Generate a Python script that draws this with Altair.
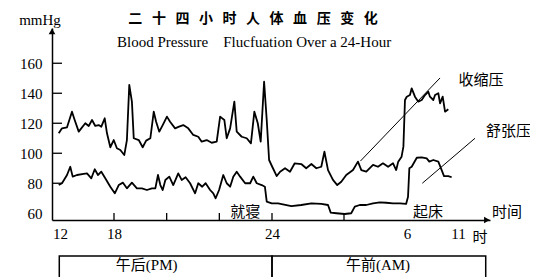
import altair as alt
import pandas as pd

# ---- data: [hour of day (12 = noon, 24 = midnight, 30 = 6 AM), mmHg]
systolic = [
    [11.86, 113.3], [12.22, 116.6], [12.78, 117.3], [13.33, 127.7], [13.63, 122.2], [14.08, 114.4],
    [14.81, 120.0], [15.19, 118.2], [15.56, 122.2], [15.92, 118.2], [16.30, 118.8], [16.59, 117.7],
    [16.97, 123.3], [17.22, 113.3], [17.59, 104.0], [17.97, 108.8], [18.11, 103.3], [18.24, 102.2],
    [18.39, 98.8], [18.49, 108.8], [18.58, 145.5], [18.68, 134.4], [18.75, 110.0], [18.94, 108.8],
    [19.09, 104.0], [19.22, 108.4], [19.38, 110.0], [19.51, 127.7], [19.60, 121.0], [19.72, 114.4],
    [19.85, 118.8], [20.01, 124.4], [20.13, 121.0], [20.32, 116.6], [20.47, 117.7], [20.63, 118.8],
    [20.82, 116.6], [21.01, 112.2], [21.20, 111.0], [21.33, 107.7], [21.52, 108.8], [21.71, 107.0],
    [21.90, 107.7], [22.03, 124.4], [22.19, 122.2], [22.28, 110.0], [22.41, 116.6], [22.57, 134.4],
    [22.66, 114.4], [22.85, 111.0], [23.04, 110.0], [23.20, 106.6], [23.33, 127.7], [23.46, 120.0],
    [23.57, 107.7], [23.70, 147.7], [23.80, 122.2], [23.89, 95.5], [24.01, 91.0], [24.21, 84.8],
    [24.36, 87.7], [24.58, 90.0], [24.80, 87.7], [25.01, 93.3], [25.30, 92.8], [25.52, 90.0],
    [25.75, 92.8], [25.97, 90.0], [26.19, 91.0], [26.33, 101.0], [26.49, 88.8], [26.71, 82.2],
    [26.90, 78.8], [27.08, 81.0], [27.30, 85.5], [27.60, 88.8], [27.82, 94.4], [27.97, 88.8],
    [28.19, 87.7], [28.49, 92.2], [28.71, 91.0], [28.93, 93.3], [29.16, 91.0], [29.38, 93.3],
    [29.52, 88.8], [29.61, 94.4], [29.76, 97.7], [29.84, 104.4], [29.91, 135.5], [29.99, 137.7],
    [30.29, 138.8], [30.46, 143.3], [30.78, 137.7], [31.11, 134.4], [31.44, 135.5], [31.76, 138.8],
    [32.09, 141.0], [32.25, 137.7], [32.58, 135.5], [32.75, 138.8], [33.07, 140.0], [33.24, 133.3],
    [33.50, 137.7], [33.73, 127.7], [34.05, 129.3],
]

diastolic = [
    [11.86, 78.8], [12.22, 80.0], [12.78, 85.5], [13.14, 91.0], [13.41, 84.4], [13.89, 85.5],
    [14.63, 86.2], [15.00, 86.6], [15.48, 83.3], [15.86, 89.3], [16.22, 85.5], [16.59, 87.7],
    [17.03, 83.3], [17.59, 77.7], [18.03, 73.3], [18.18, 78.8], [18.34, 80.4], [18.49, 76.6],
    [18.68, 80.4], [18.87, 76.6], [19.06, 76.6], [19.25, 75.5], [19.44, 76.6], [19.57, 76.6],
    [19.67, 85.5], [19.76, 78.8], [19.85, 75.5], [19.95, 82.2], [20.10, 84.4], [20.25, 78.8],
    [20.44, 86.6], [20.57, 82.2], [20.72, 84.0], [20.89, 80.0], [21.08, 73.3], [21.20, 80.0],
    [21.35, 77.7], [21.48, 80.0], [21.65, 75.5], [21.77, 73.3], [21.86, 70.0], [21.99, 75.5],
    [22.15, 85.5], [22.28, 80.0], [22.41, 77.7], [22.53, 84.4], [22.66, 87.7], [22.79, 84.4],
    [22.98, 80.0], [23.17, 80.0], [23.29, 84.4], [23.42, 80.0], [23.61, 78.8], [23.73, 77.7],
    [23.80, 67.7], [23.99, 66.6], [24.27, 66.6], [24.86, 64.8], [25.30, 65.5], [25.75, 66.6],
    [26.19, 66.2], [26.49, 65.5], [26.61, 60.4], [26.86, 60.0], [27.23, 59.5], [27.52, 60.0],
    [27.68, 64.4], [27.90, 65.5], [28.19, 65.5], [28.49, 66.6], [28.79, 67.3], [29.08, 67.0],
    [29.38, 66.6], [29.69, 66.6], [29.96, 66.2], [30.10, 71.0], [30.23, 90.0], [30.46, 91.0],
    [30.96, 97.0], [31.44, 97.3], [31.93, 96.6], [32.19, 94.4], [32.58, 95.5], [33.07, 94.4],
    [33.40, 88.8], [33.63, 84.8], [34.05, 84.8], [34.38, 84.0],
]

# axis labels / ticks
x_label_hours = [12, 18, 24, 30, 35]          # shown as 12, 18, 24, 6, 11
y_label_values = [60, 80, 100, 120, 140, 160]
x_inner_ticks = [18, 20, 22, 24, 27.2]
y_inner_ticks = [80, 100, 120, 140, 160]

# leader lines [hour, mmHg, hour2, mmHg2]
leaders = [[27.93, 94.8, 33.24, 150.2], [31.50, 80.0, 36.67, 110.0]]

# annotation texts [text, hour, mmHg]
notes = [
    ["收缩压", 37.25, 148.8],
    ["舒张压", 39.95, 114.8],
    ["就寝", 22.98, 60.8],
    ["起床", 32.06, 60.8],
    ["时间", 39.80, 60.8],
    ["时", 37.16, 44.2],
    ["mmHg", 9.78, 188.8],
    ["Blood Pressure\u00a0\u00a0\u00a0\u00a0Flucfuation Over a 24-Hour", 23.32, 174.2],
    ["午后(PM)", 19.24, 25.5],
    ["午前(AM)", 28.71, 25.5],
]
title_text = "\u00a0\u00a0\u00a0".join(list("二十四小时人体血压变化"))
title_pos = [23.28, 189.6]

# the PM / AM band below the axis [hour, hour2, mmHg, mmHg2]
bands = [[11.92, 24.0, 31.5, 12.2], [24.0, 37.72, 31.5, 12.2]]

# ---- scales (the original figure's time axis is drawn unevenly; piecewise scale)
X_DOMAIN = [11.11, 18, 24, 30, 35, 38.14]
X_RANGE = [0, 62, 220, 355, 406, 438]
Y_DOMAIN = [55.5, 183.5]

xs = alt.Scale(domain=X_DOMAIN, range=X_RANGE, zero=False, nice=False)
ys = alt.Scale(domain=Y_DOMAIN, zero=False, nice=False)

X_AXIS = alt.Axis(
    values=x_label_hours, title=None, ticks=False, labelPadding=6,
    labelExpr="datum.value == 30 ? '6' : (datum.value == 35 ? '11' : format(datum.value, 'd'))",
    labelFlush=False, labelOverlap=False, grid=False)
Y_AXIS = alt.Axis(values=y_label_values, title=None, ticks=False, labelPadding=10,
                  labelOverlap=False, grid=False)


def X():
    return alt.X("hour:Q", scale=xs, axis=X_AXIS)


def Y():
    return alt.Y("mmhg:Q", scale=ys, axis=Y_AXIS)


rows = [{"hour": h, "mmhg": v, "series": "收缩压"} for h, v in systolic]
rows += [{"hour": h, "mmhg": v, "series": "舒张压"} for h, v in diastolic]
df = pd.DataFrame(rows)

FONT = "Liberation Serif, Noto Sans CJK SC"

lines = alt.Chart(df).mark_line(color="black", strokeWidth=1.8, strokeJoin="round").encode(
    x=X(), y=Y(), detail="series:N")

ytick_df = pd.DataFrame({"mmhg": y_inner_ticks, "hour": [X_DOMAIN[0]] * len(y_inner_ticks),
                         "hour2": [12.22] * len(y_inner_ticks)})
yticks = alt.Chart(ytick_df).mark_rule(color="black", strokeWidth=1.3).encode(
    x=X(), x2="hour2:Q", y=Y())

xtick_df = pd.DataFrame({"hour": x_inner_ticks, "mmhg": [Y_DOMAIN[0]] * len(x_inner_ticks),
                         "mmhg2": [60.2] * len(x_inner_ticks)})
xticks = alt.Chart(xtick_df).mark_rule(color="black", strokeWidth=1.3).encode(
    x=X(), y=Y(), y2="mmhg2:Q")

arrow_up = alt.Chart(pd.DataFrame({"hour": [X_DOMAIN[0]], "mmhg": [181.3]})).mark_point(
    shape="triangle-up", filled=True, color="black", size=45, opacity=1).encode(x=X(), y=Y())
arrow_right = alt.Chart(pd.DataFrame({"hour": [37.84], "mmhg": [Y_DOMAIN[0]]})).mark_point(
    shape="triangle-right", filled=True, color="black", size=45, opacity=1).encode(x=X(), y=Y())

lead_df = pd.DataFrame(leaders, columns=["hour", "mmhg", "hour2", "mmhg2"])
lead = alt.Chart(lead_df).mark_rule(color="black", strokeWidth=1).encode(
    x=X(), x2="hour2:Q", y=Y(), y2="mmhg2:Q")

band_df = pd.DataFrame(bands, columns=["hour", "hour2", "mmhg", "mmhg2"])
band = alt.Chart(band_df).mark_rect(fillOpacity=0, stroke="black", strokeWidth=1.5).encode(
    x=X(), x2="hour2:Q", y=Y(), y2="mmhg2:Q")

note_df = pd.DataFrame(notes, columns=["text", "hour", "mmhg"])
texts = alt.Chart(note_df).mark_text(font=FONT, fontSize=15, color="black",
                                     align="center", baseline="middle").encode(
    x=X(), y=Y(), text="text:N")

title = alt.Chart(pd.DataFrame({"text": [title_text], "hour": [title_pos[0]], "mmhg": [title_pos[1]]})).mark_text(
    font="Noto Sans CJK SC", fontSize=14, fontWeight="bold", color="black",
    align="center", baseline="middle").encode(x=X(), y=Y(), text="text:N")

chart = alt.layer(lines, band, yticks, xticks, lead, arrow_up, arrow_right, texts, title).properties(
    width=438, height=192,
    autosize=alt.AutoSizeParams(type="none"),
    padding={"left": 44, "top": 20, "right": 40, "bottom": 60},
    background="white",
).configure_view(stroke=None).configure_axis(
    domainColor="black", domainWidth=1.5, labelColor="black",
    labelFont="Liberation Serif", labelFontSize=15, grid=False,
)

chart.save("out.html", embed_options={"renderer": "svg", "actions": False})
